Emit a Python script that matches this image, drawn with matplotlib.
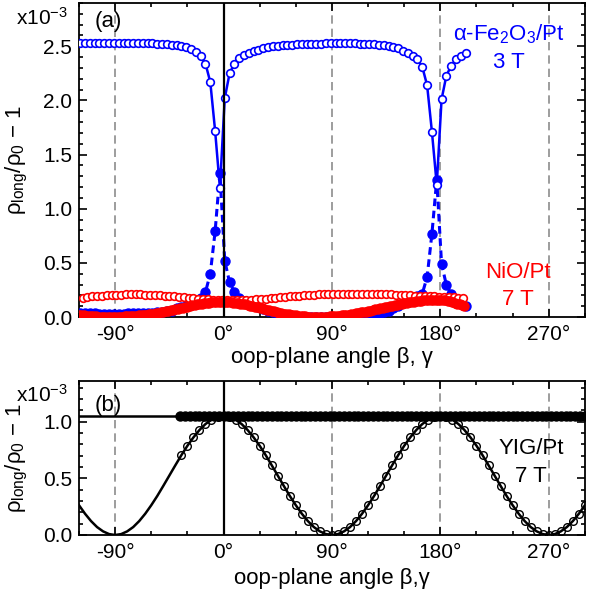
import numpy as np
import matplotlib
matplotlib.use('Agg')
import matplotlib.pyplot as plt
from matplotlib.ticker import MultipleLocator, FixedLocator, FormatStrFormatter

plt.rcParams['font.family'] = ['Liberation Sans', 'DejaVu Sans']
plt.rcParams['mathtext.fontset'] = 'custom'
plt.rcParams['mathtext.rm'] = 'Liberation Sans'
plt.rcParams['mathtext.it'] = 'Liberation Sans:italic'
plt.rcParams['font.size'] = 15

# ---- panel (a): alpha-Fe2O3/Pt (3 T) and NiO/Pt (7 T) ----
fe_x = np.arange(-119, 202, 4)
fe_open = [2.53, 2.53, 2.53, 2.53, 2.53, 2.53, 2.53, 2.53, 2.53, 2.53,
           2.53, 2.53, 2.53, 2.53, 2.53, 2.53, 2.525, 2.52, 2.52, 2.515,
           2.51, 2.50, 2.49, 2.475, 2.45, 2.41, 2.34, 2.17, 1.72, 1.19,
           2.02, 2.25, 2.34, 2.39, 2.42, 2.44, 2.46, 2.47, 2.48, 2.49,
           2.50, 2.505, 2.51, 2.51, 2.515, 2.52, 2.52, 2.52, 2.525, 2.525,
           2.525, 2.53, 2.53, 2.53, 2.53, 2.53, 2.53, 2.53, 2.525, 2.525,
           2.525, 2.52, 2.515, 2.51, 2.50, 2.49, 2.48, 2.46, 2.44, 2.41,
           2.38, 2.31, 2.14, 1.71, 1.22, 2.01, 2.23, 2.32, 2.38, 2.41,
           2.44]
fe_filled = [0.04, 0.04, 0.035, 0.035, 0.03, 0.03, 0.03, 0.03, 0.03, 0.03,
             0.035, 0.035, 0.035, 0.035, 0.035, 0.04, 0.045, 0.05, 0.055, 0.06,
             0.08, 0.09, 0.10, 0.115, 0.14, 0.18, 0.23, 0.40, 0.79, 1.33,
             0.52, 0.32, 0.23, 0.18, 0.15, 0.13, 0.11, 0.09, 0.075, 0.06,
             0.045, 0.03, 0.02, 0.01, 0.005, 0.0, 0.0, 0.0, 0.0, 0.0,
             0.0, 0.0, 0.0, 0.0, 0.0, 0.0, 0.0, 0.0, 0.0, 0.005,
             0.01, 0.02, 0.03, 0.045, 0.06, 0.085, 0.10, 0.125, 0.15, 0.17,
             0.19, 0.215, 0.37, 0.77, 1.27, 0.49, 0.295, 0.21, 0.16, 0.13,
             0.10]

nio_open_x = np.arange(-117, 200, 4)
nio_open = [0.180, 0.185, 0.190, 0.195, 0.198, 0.200, 0.203, 0.205, 0.207, 0.208,
            0.209, 0.209, 0.208, 0.207, 0.205, 0.203, 0.200, 0.197, 0.194, 0.190,
            0.186, 0.182, 0.178, 0.174, 0.170, 0.166, 0.162, 0.159, 0.157, 0.156,
            0.155, 0.155, 0.155, 0.156, 0.157, 0.159, 0.162, 0.166, 0.170, 0.174,
            0.178, 0.182, 0.186, 0.190, 0.194, 0.198, 0.201, 0.204, 0.207, 0.209,
            0.211, 0.213, 0.214, 0.215, 0.216, 0.217, 0.217, 0.217, 0.217, 0.216,
            0.215, 0.214, 0.212, 0.210, 0.208, 0.206, 0.204, 0.202, 0.200, 0.198,
            0.196, 0.194, 0.192, 0.190, 0.188, 0.186, 0.184, 0.182, 0.180, 0.178]

nio_filled_x = np.arange(-120, 201, 2)
nio_filled = [0.020, 0.018, 0.015, 0.013, 0.011, 0.009, 0.007, 0.005, 0.004, 0.003,
              0.002, 0.001, 0.001, 0.001, 0.001, 0.001, 0.002, 0.003, 0.004, 0.005,
              0.006, 0.007, 0.008, 0.010, 0.012, 0.014, 0.016, 0.018, 0.021, 0.024,
              0.027, 0.031, 0.035, 0.039, 0.043, 0.047, 0.052, 0.057, 0.062, 0.067,
              0.072, 0.077, 0.082, 0.087, 0.092, 0.097, 0.102, 0.107, 0.112, 0.116,
              0.120, 0.124, 0.128, 0.131, 0.134, 0.136, 0.138, 0.139, 0.140, 0.140,
              0.140, 0.139, 0.138, 0.136, 0.134, 0.131, 0.128, 0.124, 0.120, 0.116,
              0.111, 0.106, 0.101, 0.096, 0.090, 0.085, 0.079, 0.073, 0.067, 0.062,
              0.056, 0.051, 0.046, 0.041, 0.036, 0.032, 0.028, 0.024, 0.020, 0.017,
              0.014, 0.011, 0.009, 0.007, 0.005, 0.004, 0.003, 0.002, 0.002, 0.002,
              0.002, 0.002, 0.003, 0.004, 0.005, 0.006, 0.008, 0.010, 0.012, 0.014,
              0.017, 0.020, 0.023, 0.026, 0.030, 0.034, 0.038, 0.042, 0.046, 0.050,
              0.055, 0.060, 0.065, 0.070, 0.075, 0.080, 0.085, 0.090, 0.095, 0.100,
              0.105, 0.110, 0.115, 0.119, 0.123, 0.127, 0.131, 0.135, 0.139, 0.142,
              0.145, 0.148, 0.151, 0.153, 0.155, 0.157, 0.158, 0.159, 0.159, 0.159,
              0.158, 0.156, 0.153, 0.149, 0.144, 0.138, 0.131, 0.124, 0.116, 0.108,
              0.100]

# ---- panel (b): YIG/Pt (7 T) ----
yig_fit_x = np.arange(-120, 301, 5)
yig_fit = [0.263, 0.188, 0.123, 0.070, 0.032, 0.008, 0.000, 0.008, 0.032, 0.070,
           0.123, 0.188, 0.263, 0.345, 0.434, 0.525, 0.616, 0.705, 0.788, 0.862,
           0.927, 0.980, 1.018, 1.042, 1.050, 1.042, 1.018, 0.980, 0.927, 0.862,
           0.788, 0.705, 0.616, 0.525, 0.434, 0.345, 0.263, 0.188, 0.123, 0.070,
           0.032, 0.008, 0.000, 0.008, 0.032, 0.070, 0.123, 0.188, 0.263, 0.345,
           0.434, 0.525, 0.616, 0.705, 0.788, 0.862, 0.927, 0.980, 1.018, 1.042,
           1.050, 1.042, 1.018, 0.980, 0.927, 0.862, 0.788, 0.705, 0.616, 0.525,
           0.434, 0.345, 0.263, 0.188, 0.123, 0.070, 0.032, 0.008, 0.000, 0.008,
           0.032, 0.070, 0.123, 0.188, 0.263]
yig_open_x = yig_fit_x[17:]
yig_open = yig_fit[17:]
yig_flat_x = [-120, 300]
yig_flat = [1.05, 1.05]
yig_filled_x = np.arange(-36, 301, 4)
yig_filled = [1.05, 1.05, 1.05, 1.05, 1.05, 1.05, 1.05, 1.05, 1.05, 1.05,
              1.05, 1.05, 1.05, 1.05, 1.05, 1.05, 1.05, 1.05, 1.05, 1.05,
              1.05, 1.05, 1.05, 1.05, 1.05, 1.05, 1.05, 1.05, 1.05, 1.05,
              1.05, 1.05, 1.05, 1.05, 1.05, 1.05, 1.05, 1.05, 1.05, 1.05,
              1.05, 1.05, 1.05, 1.05, 1.05, 1.05, 1.05, 1.05, 1.05, 1.05,
              1.05, 1.05, 1.05, 1.05, 1.05, 1.05, 1.05, 1.05, 1.05, 1.05,
              1.05, 1.05, 1.05, 1.05, 1.05, 1.05, 1.05, 1.05, 1.05, 1.05,
              1.05, 1.05, 1.05, 1.05, 1.05, 1.05, 1.05, 1.05, 1.05, 1.05,
              1.05, 1.05, 1.05, 1.05, 1.05]

xticks = [-90, 0, 90, 180, 270]
xticklabels = ['-90°', '0°', '90°', '180°', '270°']
ylab = r'ρ$_{\rm long}$/ρ$_{\rm 0}$ − 1'

fig = plt.figure(figsize=(6.03, 6.02), dpi=100)
ax1 = fig.add_axes([0.131, 0.4734, 0.839, 0.5216])
ax2 = fig.add_axes([0.131, 0.1113, 0.839, 0.2558])

for ax in (ax1, ax2):
    for v in (-90, 90, 180, 270):
        ax.axvline(v, color='#8c8c8c', lw=1.2, ls=(0, (5, 3)), zorder=1)
    ax.axvline(0, color='black', lw=1.6, zorder=6)
    ax.set_xlim(-120, 300)
    ax.xaxis.set_major_locator(FixedLocator(xticks))
    ax.set_xticklabels(xticklabels)
    ax.xaxis.set_minor_locator(MultipleLocator(30))
    ax.yaxis.set_major_locator(MultipleLocator(0.5))
    ax.yaxis.set_minor_locator(MultipleLocator(0.1))
    ax.yaxis.set_major_formatter(FormatStrFormatter('%.1f'))
    ax.tick_params(which='both', direction='in', top=True, right=True, width=1.2, labelsize=15)
    ax.tick_params(which='major', length=6)
    ax.tick_params(which='minor', length=3)
    ax.tick_params(axis='x', pad=6)
    ax.tick_params(axis='y', pad=5)
    for s in ax.spines.values():
        s.set_linewidth(1.3)
    ax.set_ylabel(ylab, fontsize=16)
    ax.yaxis.set_label_coords(-0.097, 0.5)

# panel (a)
ax1.plot(fe_x, fe_filled, color='blue', ls=(0, (2.5, 1.5)), lw=2.2,
         marker='o', ms=6.5, mfc='blue', mec='blue', zorder=3)
ax1.plot(fe_x, fe_open, color='blue', lw=1.8, marker='o', ms=5.5,
         mfc='white', mec='blue', mew=1.2, zorder=4)
ax1.plot(nio_open_x, nio_open, ls='none', marker='o', ms=5.5,
         mfc='white', mec='red', mew=1.2, zorder=4)
ax1.plot(nio_filled_x, nio_filled, ls='none', marker='o', ms=6.5,
         color='red', zorder=5)
ax1.set_ylim(0, 2.9)
ax1.set_xlabel('oop-plane angle β, γ', fontsize=16, labelpad=2)
ax1.text(0.03, 0.94, '(a)', transform=ax1.transAxes, fontsize=16, va='center')
ax1.text(-0.022, 0.952, 'x10$^{-3}$', transform=ax1.transAxes, fontsize=15,
         ha='right', va='center')
ax1.text(0.85, 0.858, 'α-Fe$_2$O$_3$/Pt\n3 T', transform=ax1.transAxes, color='blue',
         fontsize=16, ha='center', va='center', linespacing=1.4)
ax1.text(0.867, 0.099, 'NiO/Pt\n7 T', transform=ax1.transAxes, color='red',
         fontsize=16, ha='center', va='center', linespacing=1.4)

# panel (b)
ax2.plot(yig_flat_x, yig_flat, color='black', lw=1.8, zorder=3)
ax2.plot(yig_filled_x, yig_filled, ls='none', marker='o', ms=6.5,
         color='black', zorder=3)
ax2.plot(yig_open_x, yig_open, ls='none', marker='o', ms=5.5,
         mfc='none', mec='black', mew=1.0, zorder=3)
ax2.plot(yig_fit_x, yig_fit, color='black', lw=1.8, zorder=4)
ax2.set_ylim(0, 1.36)
ax2.set_xlabel('oop-plane angle β,γ', fontsize=16, labelpad=4)
ax2.text(0.03, 0.84, '(b)', transform=ax2.transAxes, fontsize=16, va='center')
ax2.text(-0.022, 0.91, 'x10$^{-3}$', transform=ax2.transAxes, fontsize=15,
         ha='right', va='center')
ax2.text(0.893, 0.47, 'YIG/Pt\n7 T', transform=ax2.transAxes, color='black',
         fontsize=16, ha='center', va='center', linespacing=1.4)

fig.savefig('out.png', dpi=100)
